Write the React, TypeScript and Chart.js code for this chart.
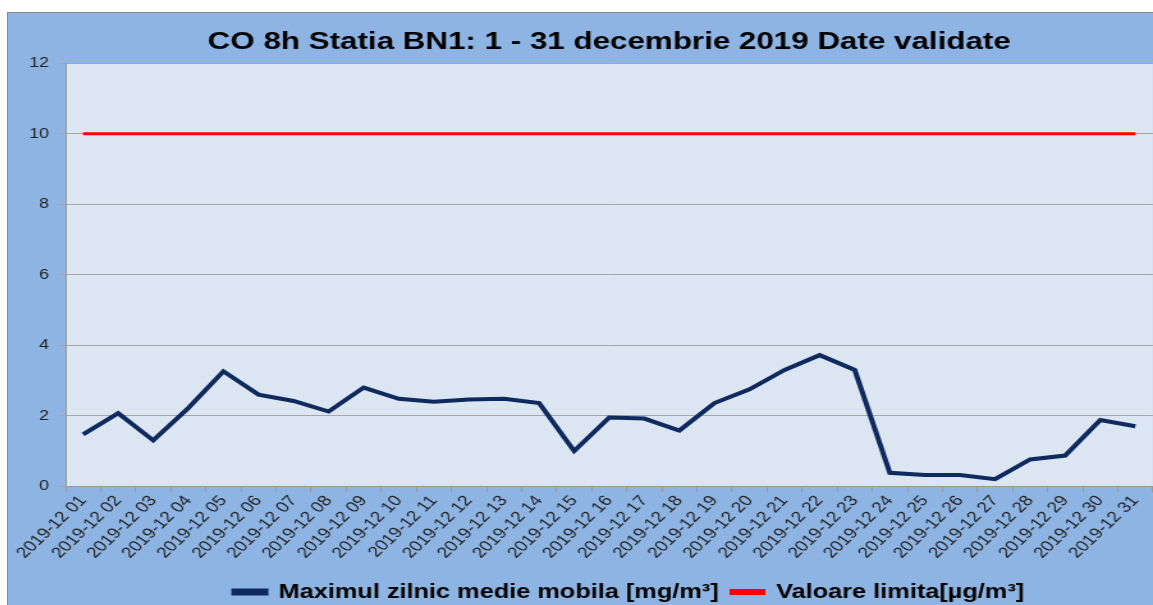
import { useEffect, useRef } from "react";
import Chart from "chart.js/auto";

const categories = [
  "2019-12 01", "2019-12 02", "2019-12 03", "2019-12 04", "2019-12 05", "2019-12 06", "2019-12 07",
  "2019-12 08", "2019-12 09", "2019-12 10", "2019-12 11", "2019-12 12", "2019-12 13", "2019-12 14",
  "2019-12 15", "2019-12 16", "2019-12 17", "2019-12 18", "2019-12 19", "2019-12 20", "2019-12 21",
  "2019-12 22", "2019-12 23", "2019-12 24", "2019-12 25", "2019-12 26", "2019-12 27", "2019-12 28",
  "2019-12 29", "2019-12 30", "2019-12 31",
];

const maxDailyValues = [
  1.47, 2.07, 1.3, 2.22, 3.26, 2.6, 2.42, 2.12, 2.8, 2.48, 2.4, 2.46, 2.48, 2.36, 1.0, 1.95, 1.92,
  1.58, 2.36, 2.75, 3.3, 3.72, 3.3, 0.38, 0.32, 0.32, 0.2, 0.76, 0.87, 1.88, 1.7,
];

const limitValues = [
  10, 10, 10, 10, 10, 10, 10, 10, 10, 10, 10, 10, 10, 10, 10, 10, 10, 10, 10, 10, 10, 10, 10, 10,
  10, 10, 10, 10, 10, 10, 10,
];

const yTicks = [0, 2, 4, 6, 8, 10, 12];

const FONT = "'Liberation Sans', Arial, sans-serif";
const STRETCH = 1.2793;
const CANVAS_W = 895;
const CANVAS_H = 599;
const LEGEND_SHIFT = 15.5;

export default function App() {
  const ref = useRef<HTMLCanvasElement | null>(null);

  useEffect(() => {
    document.body.style.overflow = "hidden";
    const canvas = ref.current;
    if (!canvas) return;
    const plotBg = {
      id: "plotBg",
      beforeDraw(chart: any) {
        const { ctx, chartArea } = chart;
        ctx.save();
        ctx.fillStyle = "#DCE6F2";
        ctx.fillRect(chartArea.left, chartArea.top, chartArea.right - chartArea.left, chartArea.bottom - chartArea.top);
        ctx.restore();
      },
    };
    const legendShift = {
      id: "legendShift",
      afterLayout(chart: any) {
        if (chart.legend) {
          chart.legend.left += LEGEND_SHIFT;
          chart.legend.right += LEGEND_SHIFT;
        }
      },
    };
    const chart = new Chart(canvas, {
      type: "line",
      data: {
        labels: categories,
        datasets: [
          {
            label: "Maximul zilnic medie mobila [mg/m³]",
            data: maxDailyValues,
            borderColor: "#0E2A5E",
            backgroundColor: "#0E2A5E",
            borderWidth: 4,
            pointRadius: 0,
            tension: 0,
          },
          {
            label: "Valoare limita[µg/m³]",
            data: limitValues,
            borderColor: "#FF0000",
            backgroundColor: "#FF0000",
            borderWidth: 3,
            pointRadius: 0,
            tension: 0,
          },
        ],
      },
      options: {
        responsive: false,
        animation: false,
        devicePixelRatio: 1,
        layout: { padding: 0 },
        plugins: {
          title: {
            display: true,
            fullSize: false,
            text: "CO 8h Statia BN1: 1 - 31 decembrie 2019 Date validate",
            color: "#000",
            font: { family: FONT, size: 24.5, weight: "bold", lineHeight: 1.2 },
            padding: { top: 15, bottom: 6 },
          },
          legend: {
            position: "bottom",
            fullSize: false,
            labels: {
              color: "#000",
              font: { family: FONT, size: 19.8, weight: "bold" },
              boxWidth: 25,
              boxHeight: 3,
              padding: 10,
            },
          },
          tooltip: { enabled: false },
        },
        scales: {
          x: {
            type: "category",
            offset: true,
            afterFit(scale: any) {
              scale.height = 86;
            },
            grid: {
              offset: true,
              drawOnChartArea: false,
              drawTicks: true,
              tickLength: 6,
              color: "#999999",
            },
            border: { color: "#999999", width: 1 },
            ticks: {
              color: "#222",
              font: { family: FONT, size: 15 },
              maxRotation: 50,
              minRotation: 50,
              autoSkip: false,
              padding: 0,
            },
          },
          y: {
            min: 0,
            max: 12,
            afterBuildTicks(scale: any) {
              scale.ticks = yTicks.map((v) => ({ value: v }));
            },
            afterFit(scale: any) {
              scale.width = 45;
            },
            grid: { color: "#A6A6A6", lineWidth: 1, tickLength: 5 },
            border: { color: "#999999", width: 1 },
            ticks: {
              color: "#222",
              font: { family: FONT, size: 14 },
              padding: 8,
            },
          },
        },
      },
      plugins: [plotBg, legendShift],
    });
    return () => chart.destroy();
  }, []);

  return (
    <div
      style={{
        position: "fixed",
        left: 7,
        top: 12,
        width: 1146,
        height: 593,
        overflow: "hidden",
        background: "#8EB4E3",
        borderLeft: "1px solid #888",
        borderTop: "1px solid #888",
        boxSizing: "border-box",
      }}
    >
      <div style={{ transform: `scaleX(${STRETCH})`, transformOrigin: "0 0", width: CANVAS_W }}>
        <canvas ref={ref} width={CANVAS_W} height={CANVAS_H} style={{ display: "block" }} />
      </div>
    </div>
  );
}
